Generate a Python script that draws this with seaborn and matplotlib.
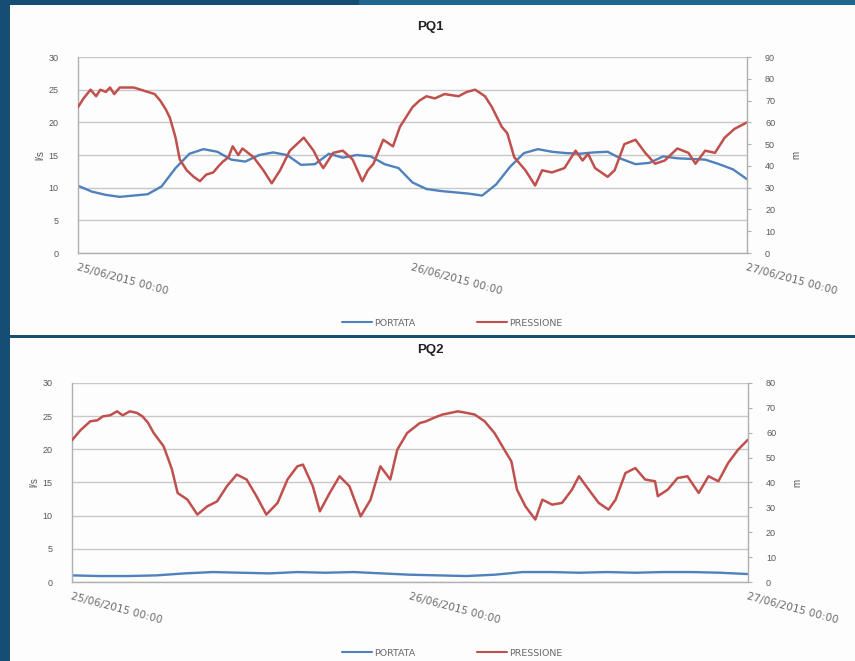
import pandas as pd
import numpy as np
import seaborn as sns
import matplotlib.pyplot as plt
import matplotlib.dates as mdates
from matplotlib.patches import Rectangle
from matplotlib.lines import Line2D

# %% DATA (hours from 25/06/2015 00:00)

start = pd.Timestamp('2015-06-25 00:00')

pq1_flow_hours = list(range(0, 49))
pq1_flow = [10.3, 9.4, 8.9, 8.6, 8.8, 9.0, 10.2, 13.0, 15.2, 15.9, 15.5, 14.3, 14.0,
            15.0, 15.4, 15.0, 13.5, 13.6, 15.2, 14.6, 15.0, 14.8, 13.6, 13.0, 10.8,
            9.8, 9.5, 9.3, 9.1, 8.8, 10.5, 13.2, 15.3, 15.9, 15.5, 15.3, 15.2, 15.4,
            15.5, 14.4, 13.6, 13.8, 14.8, 14.5, 14.4, 14.3, 13.6, 12.8, 11.3]

pq1_press_hours = [0, 0.4, 0.9, 1.3, 1.6, 2.0, 2.3, 2.6, 3.0, 3.5, 4.0, 4.5, 5.0, 5.5,
                   5.9, 6.3, 6.6, 7.0, 7.3, 7.8, 8.3, 8.75, 9.2, 9.7, 10.1, 10.4, 10.8,
                   11.1, 11.5, 11.8, 12.2, 12.6, 13.3, 13.9, 14.5, 15.2, 15.7, 16.2,
                   16.9, 17.3, 17.6, 18.3, 19.0, 19.7, 20.4, 20.8, 21.2, 21.9, 22.6,
                   23.1, 23.5, 24.0, 24.5, 25.0, 25.6, 26.3, 27.3, 27.9, 28.5, 29.2,
                   29.7, 30.4, 30.8, 31.3, 32.1, 32.8, 33.3, 34.0, 34.9, 35.7, 36.2,
                   36.6, 37.1, 38.0, 38.5, 39.2, 40.0, 40.7, 41.4, 42.1, 43.0, 43.8,
                   44.3, 45.0, 45.7, 46.4, 47.1, 48.0]
pq1_press = [67, 71, 75, 72, 75, 74, 76, 73, 76, 76, 76, 75, 74, 73,
             70, 66, 62, 53, 43, 38, 35, 33, 36, 37, 40, 42, 44,
             49, 45, 48, 46, 44, 38, 32, 38, 47, 50, 53,
             47, 42, 39, 46, 47, 43, 33, 38, 41, 52, 49,
             58, 62, 67, 70, 72, 71, 73, 72, 74, 75, 72,
             67, 58, 55, 44, 38, 31, 38, 37, 39, 47, 42.5,
             45.5, 39, 35, 38, 50, 52, 46, 41, 42.5, 48, 46,
             41, 47, 46, 53, 57, 60]

pq2_flow_hours = list(range(0, 49, 2))
pq2_flow = [1.0, 0.9, 0.9, 1.0, 1.3, 1.5, 1.4, 1.3, 1.5, 1.4, 1.5, 1.3, 1.1,
            1.0, 0.9, 1.1, 1.5, 1.5, 1.4, 1.5, 1.4, 1.5, 1.5, 1.4, 1.2]

pq2_press_hours = [0, 0.3, 0.6, 1.3, 1.8, 2.2, 2.7, 3.2, 3.6, 4.1, 4.6, 5.0, 5.4, 5.8,
                   6.5, 6.8, 7.1, 7.5, 8.2, 8.9, 9.6, 10.3, 11.0, 11.7, 12.4, 13.1,
                   13.8, 14.6, 15.3, 16.0, 16.4, 17.1, 17.6, 18.3, 19.0, 19.7, 20.5,
                   21.2, 21.9, 22.6, 23.1, 23.8, 24.7, 25.1, 25.7, 26.3, 27.4, 28.0,
                   28.6, 29.3, 30.0, 30.7, 31.2, 31.6, 32.2, 32.9, 33.4, 34.1, 34.8,
                   35.5, 36.0, 36.7, 37.4, 38.1, 38.6, 39.3, 40.0, 40.7, 41.4, 41.6,
                   42.3, 43.0, 43.7, 44.5, 45.2, 45.9, 46.6, 47.3, 48.0]
pq2_press = [57, 59, 61, 64.6, 65, 66.6, 67, 68.6, 67, 68.6, 68, 66.6, 64, 59.9,
             54.6, 50, 45.2, 35.8, 33.1, 27.1, 30.4, 32.4, 38.5, 43.2, 41.2, 34.5,
             27.1, 31.8, 41.2, 46.5, 47.2, 38.5, 28.4, 35.8, 42.5, 38.5, 26.4,
             33.1, 46.5, 41.2, 53.2, 59.9, 63.9, 64.5, 66, 67.3, 68.6, 68,
             67.3, 64.6, 59.9, 53.2, 48.5, 37.1, 30.4, 25.1, 33.1, 31.1, 31.8,
             37.1, 42.5, 37.1, 31.8, 29.1, 33.1, 43.8, 45.8, 41.2, 40.5, 34.5,
             37.1, 41.8, 42.5, 35.8, 42.5, 40.5, 47.9, 53.2, 57.2]

panels = [
    ('PQ1', pq1_flow_hours, pq1_flow, pq1_press_hours, pq1_press, np.arange(0, 91, 10)),
    ('PQ2', pq2_flow_hours, pq2_flow, pq2_press_hours, pq2_press, np.arange(0, 81, 10)),
]

# %% STYLE

sns.set_style('white')
plt.rcParams['font.family'] = ['Liberation Sans', 'DejaVu Sans']

blue = '#4f81bd'
red = '#c0504d'
grey = '#595959'

fig = plt.figure(figsize=(8.55, 6.61), dpi=100)
fig.patch.set_facecolor('#154d74')

# lighter strip on the slide's top band
fig.patches.append(Rectangle((0.42, 0.99), 0.58, 0.01, transform=fig.transFigure,
                             facecolor='#1f6690', edgecolor='none', zorder=-11))

# white slide panels, kept behind the axes
fig.patches.append(Rectangle((0.012, 0.493), 0.988, 0.499, transform=fig.transFigure,
                             facecolor='#fdfdfd', edgecolor='none', zorder=-10))
fig.patches.append(Rectangle((0.012, 0.0), 0.988, 0.489, transform=fig.transFigure,
                             facecolor='#fdfdfd', edgecolor='none', zorder=-10))

axes_rects = [[0.0912, 0.6172, 0.7825, 0.2965], [0.0842, 0.1195, 0.7906, 0.3011]]
title_y = [0.959, 0.470]
legend_y = [0.511, 0.012]

for (name, fh, fv, ph, pv, rticks), rect, ty, ly in zip(panels, axes_rects, title_y, legend_y):
    flow = pd.DataFrame({'time': start + pd.to_timedelta(fh, unit='h'), 'PORTATA': fv})
    press = pd.DataFrame({'time': start + pd.to_timedelta(ph, unit='h'), 'PRESSIONE': pv})

    ax = fig.add_axes(rect)
    ax2 = ax.twinx()
    # secondary series (pressure) drawn over the flow, as in the original
    ax.set_zorder(1)
    ax2.set_zorder(2)
    ax.set_facecolor('none')
    ax2.set_facecolor('none')

    sns.lineplot(data=flow, x='time', y='PORTATA', color=blue, linewidth=1.7, ax=ax)
    sns.lineplot(data=press, x='time', y='PRESSIONE', color=red, linewidth=1.8, ax=ax2)

    ax.set_ylim(0, 30)
    ax.set_yticks(np.arange(0, 31, 5))
    ax2.set_ylim(0, rticks[-1])
    ax2.set_yticks(rticks)
    ax.set_xlim(start, start + pd.Timedelta(hours=48))
    ax.set_xticks(pd.date_range(start, periods=3, freq='D'))
    ax.xaxis.set_major_formatter(mdates.DateFormatter('%d/%m/%Y %H:%M'))

    ax.yaxis.grid(True, color='#c8c8c8', linewidth=1)
    ax2.grid(False)
    for a in (ax, ax2):
        for s in a.spines.values():
            s.set_visible(False)
    ax.spines['left'].set_visible(True)
    ax.spines['bottom'].set_visible(True)
    ax2.spines['right'].set_visible(True)
    for s in (ax.spines['left'], ax.spines['bottom'], ax2.spines['right']):
        s.set_color('#b0b0b0')
        s.set_linewidth(1)

    ax.tick_params(axis='y', labelsize=6.5, colors=grey, length=0, pad=14)
    ax2.tick_params(axis='y', labelsize=6.5, colors=grey, length=3, direction='out',
                    color='#b0b0b0', pad=10, right=True, labelright=True)
    ax.tick_params(axis='x', labelsize=7.6, colors='#6a6a6a', length=0, pad=7)
    for lab in ax.get_xticklabels():
        lab.set_family('DejaVu Sans')
        lab.set_rotation(-15)
        lab.set_ha('left')
        lab.set_va('top')
        lab.set_rotation_mode('anchor')

    ax.set_xlabel('')
    ax2.set_xlabel('')
    ax.set_ylabel('l/s', fontsize=7, color=grey, labelpad=2)
    ax2.set_ylabel('m', fontsize=7, color=grey, rotation=90, labelpad=12)

    fig.text(0.503, ty, name, ha='center', va='center', fontsize=9.5,
             fontweight='bold', color='#222222')

    handles = [Line2D([], [], color=blue, linewidth=1.5), Line2D([], [], color=red, linewidth=1.5)]
    ax.legend(handles, ['PORTATA', 'PRESSIONE'], loc='center', bbox_to_anchor=(0.529, ly),
              bbox_transform=fig.transFigure, ncol=2, frameon=False,
              prop={'family': 'DejaVu Sans', 'size': 6.8},
              labelcolor='#6a6a6a', handlelength=3.2, columnspacing=6.5, handletextpad=0.2)

fig.savefig('out.png', dpi=100, facecolor=fig.get_facecolor())
